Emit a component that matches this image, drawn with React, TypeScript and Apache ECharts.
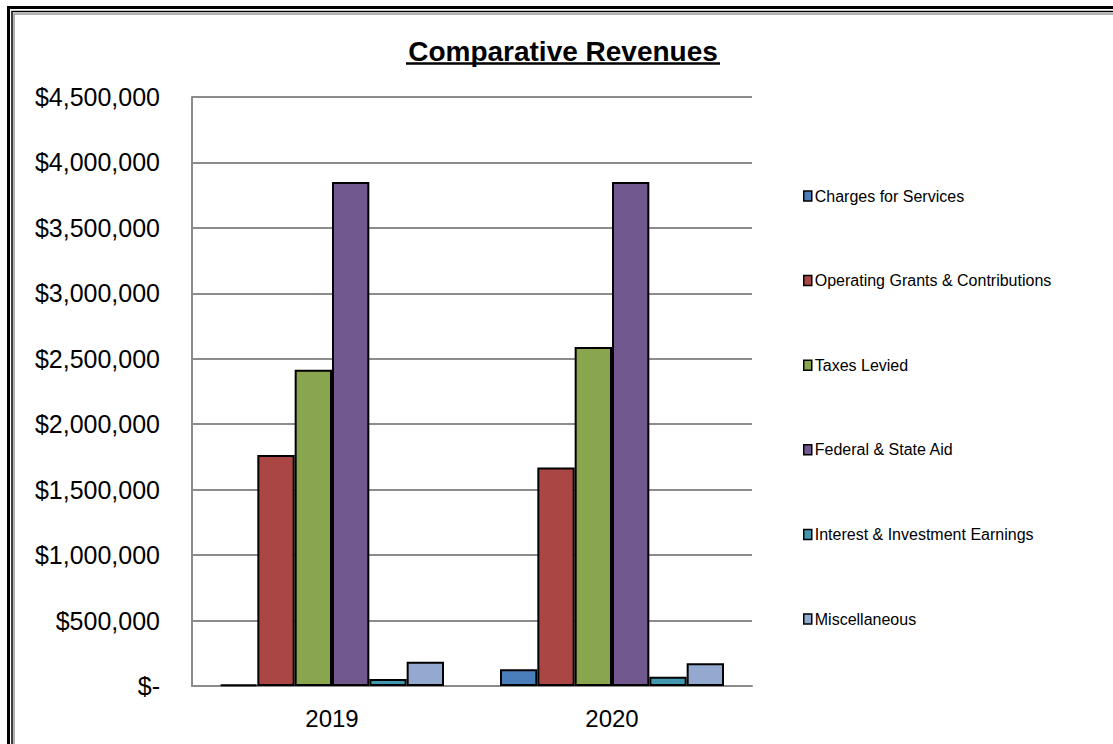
import React, { useEffect, useRef } from "react";
import * as echarts from "echarts";

const years = ["2019", "2020"];
const seriesNames = [
  "Charges for Services",
  "Operating Grants & Contributions",
  "Taxes Levied",
  "Federal & State Aid",
  "Interest & Investment Earnings",
  "Miscellaneous",
];
const chargesForServices = [10000, 128000];
const operatingGrants = [1765000, 1670000];
const taxesLevied = [2416000, 2590000];
const federalStateAid = [3851000, 3851000];
const interestEarnings = [53000, 71000];
const miscellaneous = [186000, 173000];
const seriesValues = [
  chargesForServices,
  operatingGrants,
  taxesLevied,
  federalStateAid,
  interestEarnings,
  miscellaneous,
];
const colors = ["#4A7EBB", "#AA4643", "#89A54E", "#71588F", "#4198AF", "#93A9CF"];
const yMax = 4500000;
const yStep = 500000;

const FONT = "'Liberation Sans', Arial, sans-serif";

export default function App() {
  const ref = useRef<HTMLDivElement>(null);
  useEffect(() => {
    if (!ref.current) return;
    const chart = echarts.init(ref.current, undefined, { renderer: "svg" });
    chart.setOption({
      animation: false,
      backgroundColor: "#fff",
      textStyle: { fontFamily: FONT },
      graphic: [
        { type: "rect", shape: { x: 8.5, y: 7.5, width: 3000, height: 3000 }, style: { fill: "none", stroke: "#000", lineWidth: 3 }, silent: true },
        { type: "rect", shape: { x: 12, y: 11.5, width: 3000, height: 3000 }, style: { fill: "none", stroke: "#000", lineWidth: 1.5 }, silent: true },
        { type: "rect", shape: { x: 14, y: 14, width: 3000, height: 3000 }, style: { fill: "none", stroke: "#999", lineWidth: 1.5 }, silent: true },
        {
          type: "text",
          x: 563,
          y: 51,
          style: {
            text: "Comparative Revenues",
            fontFamily: FONT,
            fontSize: 28,
            fontWeight: "bold",
            fill: "#000",
            textAlign: "center",
            textVerticalAlign: "middle",
          },
        },
        { type: "line", shape: { x1: 406, y1: 63.5, x2: 720, y2: 63.5 }, style: { stroke: "#000", lineWidth: 2.5 } },
      ],
      legend: {
        orient: "vertical",
        left: 798,
        top: 183,
        itemWidth: 8,
        itemHeight: 10,
        itemGap: 68.6,
        icon: "rect",
        selectedMode: false,
        itemStyle: { borderColor: "#000", borderWidth: 1.5 },
        textStyle: { fontFamily: FONT, fontSize: 16, color: "#000", padding: [0, 0, 0, -2] },
        data: seriesNames,
      },
      grid: { left: 192, right: 361, top: 97, bottom: 58, containLabel: false },
      xAxis: {
        type: "category",
        data: years,
        axisLine: { lineStyle: { color: "#8C8C8C", width: 2 } },
        axisTick: { show: false },
        axisLabel: { fontFamily: FONT, fontSize: 24, color: "#000", margin: 20 },
      },
      yAxis: {
        type: "value",
        min: 0,
        max: yMax,
        interval: yStep,
        axisLine: { show: true, lineStyle: { color: "#8C8C8C", width: 2 } },
        axisTick: { show: false },
        splitLine: { lineStyle: { color: "#8C8C8C", width: 2 } },
        axisLabel: {
          fontFamily: FONT,
          fontSize: 25,
          color: "#000",
          margin: 32,
          formatter: (v: number) => (v === 0 ? "$-" : "$" + v.toLocaleString("en-US")),
        },
      },
      series: seriesNames.map((name, i) => ({
        name,
        type: "bar",
        data: seriesValues[i],
        barGap: "0%",
        barCategoryGap: "20%",
        itemStyle: { color: colors[i], borderColor: "#000", borderWidth: 2 },
      })),
    });
    return () => chart.dispose();
  }, []);
  return (
    <div
      ref={ref}
      style={{ position: "fixed", left: 0, top: 0, width: 1113, height: 744 }}
    />
  );
}
